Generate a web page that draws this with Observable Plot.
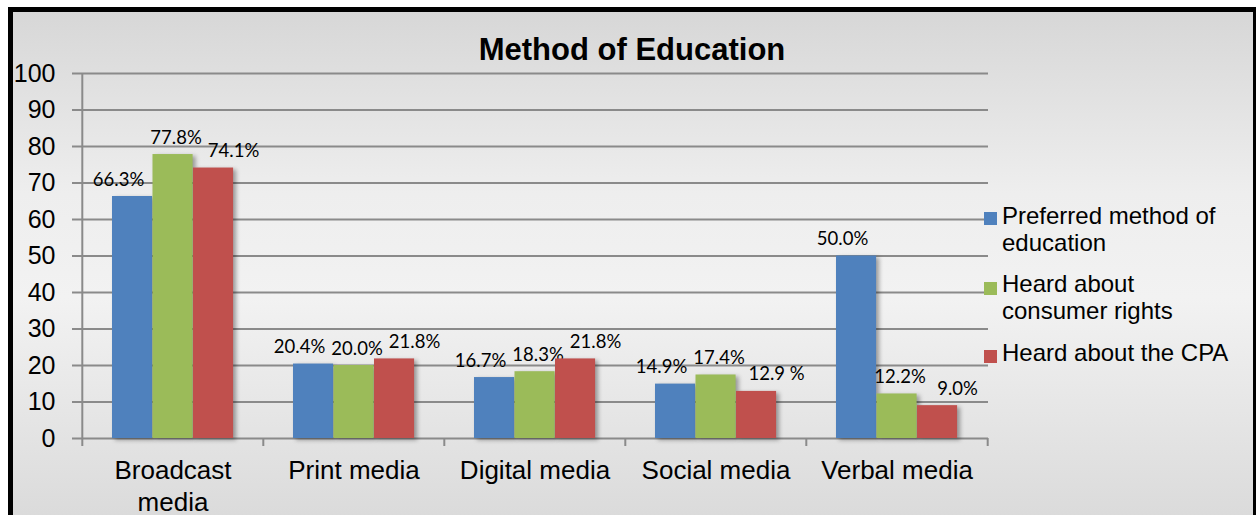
<!DOCTYPE html>
<html>
<head>
<meta charset="utf-8">
<script src="https://cdn.jsdelivr.net/npm/d3@7"></script>
<script src="https://cdn.jsdelivr.net/npm/@observablehq/plot@0.6"></script>
<style>
  html, body { margin: 0; padding: 0; background: #ffffff; width: 1256px; height: 515px; overflow: hidden; }
  #frame {
    position: absolute; left: 8px; top: 7px; width: 1250px; height: 530px; box-sizing: border-box;
    border: 5px solid #000;
    background: linear-gradient(180deg, #d7d7d7 0%, #eeeeee 35%, #f2f2f2 55%, #d9d9d9 100%);
  }
  #chart { position: absolute; left: 0; top: 0; }
  #chart svg { background: transparent !important; overflow: visible; }
  #title {
    position: absolute; left: 0; width: 1264px; top: 34px; text-align: center;
    font: bold 31px "Liberation Sans", Arial, sans-serif; line-height: 31px; color: #000;
  }
  .leg { position: absolute; left: 1002px; font: 24px "Liberation Sans", Arial, sans-serif; line-height: 27px; color: #000; white-space: nowrap; }
  .sw { position: absolute; left: 984px; width: 13px; height: 13px; }
  g[aria-label="bar"] rect { filter: drop-shadow(3px 2px 2px rgba(0,0,0,0.35)); }
  g[aria-label="x-axis tick label"] text { font-size: 26px; font-family: "Liberation Sans", Arial, sans-serif; }
  g[aria-label="y-axis tick label"] text { font-size: 25px; font-family: "Liberation Sans", Arial, sans-serif; }
</style>
</head>
<body>
<div id="frame"></div>
<div id="chart"></div>
<div id="title">Method of Education</div>
<div id="legend"></div>
<script>
// ---- data ----
const categories = ["Broadcast media", "Print media", "Digital media", "Social media", "Verbal media"];
const xTickLabels = ["Broadcast\nmedia", "Print media", "Digital media", "Social media", "Verbal media"];
const seriesNames = ["Preferred method of education", "Heard about consumer rights", "Heard about the CPA"];
const legendLabels = ["Preferred method of<br>education", "Heard about<br>consumer rights", "Heard about the CPA"];
const preferred = [66.3, 20.4, 16.7, 14.9, 50.0];
const heardRights = [77.8, 20.0, 18.3, 17.4, 12.2];
const heardCPA = [74.1, 21.8, 21.8, 12.9, 9.0];
const preferredLabels = ["66.3%", "20.4%", "16.7%", "14.9%", "50.0%"];
const heardRightsLabels = ["77.8%", "20.0%", "18.3%", "17.4%", "12.2%"];
const heardCPALabels = ["74.1%", "21.8%", "21.8%", "12.9 %", "9.0%"];
const yTicks = [0, 10, 20, 30, 40, 50, 60, 70, 80, 90, 100];
const colors = ["#4f81bd", "#9bbb59", "#c0504d"];

// ---- layout ----
const W = 1256, H = 515, mL = 81, mR = 268, mT = 73, mB = 77;
const bw = (W - mL - mR) / categories.length;   // band width
const barW = 40.5, gap = 30;
const valuesBySeries = [preferred, heardRights, heardCPA];
const labelsBySeries = [preferredLabels, heardRightsLabels, heardCPALabels];
const labelShift = [-14, 3, 20];

const rows = valuesBySeries.map((vals, s) => categories.map((c, i) => ({category: c, value: vals[i], label: labelsBySeries[s][i], series: seriesNames[s]})));

const marks = [];
marks.push(Plot.ruleY(yTicks, {stroke: "#8a8a8a", strokeWidth: 2, insetLeft: -9}));
rows.forEach((data, s) => {
  const left = gap + s * barW;
  const right = bw - left - barW;
  marks.push(Plot.barY(data, {x: "category", y: "value", fill: colors[s], insetLeft: left, insetRight: right}));
  const center = left + barW / 2 - bw / 2;
  marks.push(Plot.text(data, {x: "category", y: "value", text: "label", dx: center + labelShift[s], dy: -11,
    lineAnchor: "bottom", fontSize: 18.5, fontFamily: "Lato, 'Open Sans', sans-serif", fill: "#000"}));
});
marks.push(Plot.ruleX([categories[0]], {y1: -2.2, y2: 100, dx: -bw / 2, stroke: "#8a8a8a", strokeWidth: 2}));
marks.push(Plot.ruleX(categories.slice(1), {y1: -2.2, y2: 0, dx: -bw / 2, stroke: "#8a8a8a", strokeWidth: 2}));
marks.push(Plot.ruleX([categories[categories.length - 1]], {y1: -2.2, y2: 0, dx: bw / 2, stroke: "#8a8a8a", strokeWidth: 2}));
marks.push(Plot.axisY(yTicks, {tickSize: 0, tickPadding: 26, fontSize: 25, label: null, fill: "#000"}));
marks.push(Plot.axisX({tickSize: 0, tickPadding: 17, fontSize: 26, label: null, lineHeight: 1.25, fill: "#000",
  tickFormat: d => xTickLabels[categories.indexOf(d)]}));

const chart = Plot.plot({
  width: W, height: H,
  marginLeft: mL, marginRight: mR, marginTop: mT, marginBottom: mB,
  style: {background: "transparent", fontFamily: "'Liberation Sans', Arial, sans-serif", color: "#000"},
  x: {type: "band", domain: categories, paddingInner: 0, paddingOuter: 0, label: null},
  y: {domain: [0, 100], label: null},
  marks
});
document.getElementById("chart").appendChild(chart);

const legTops = [202, 270, 339];
const swTops = [212, 282, 350];
const legend = document.getElementById("legend");
seriesNames.forEach((name, i) => {
  const sw = document.createElement("div");
  sw.className = "sw"; sw.style.top = swTops[i] + "px"; sw.style.background = colors[i];
  legend.appendChild(sw);
  const t = document.createElement("div");
  t.className = "leg"; t.style.top = legTops[i] + "px"; t.innerHTML = legendLabels[i];
  legend.appendChild(t);
});
</script>
</body>
</html>
